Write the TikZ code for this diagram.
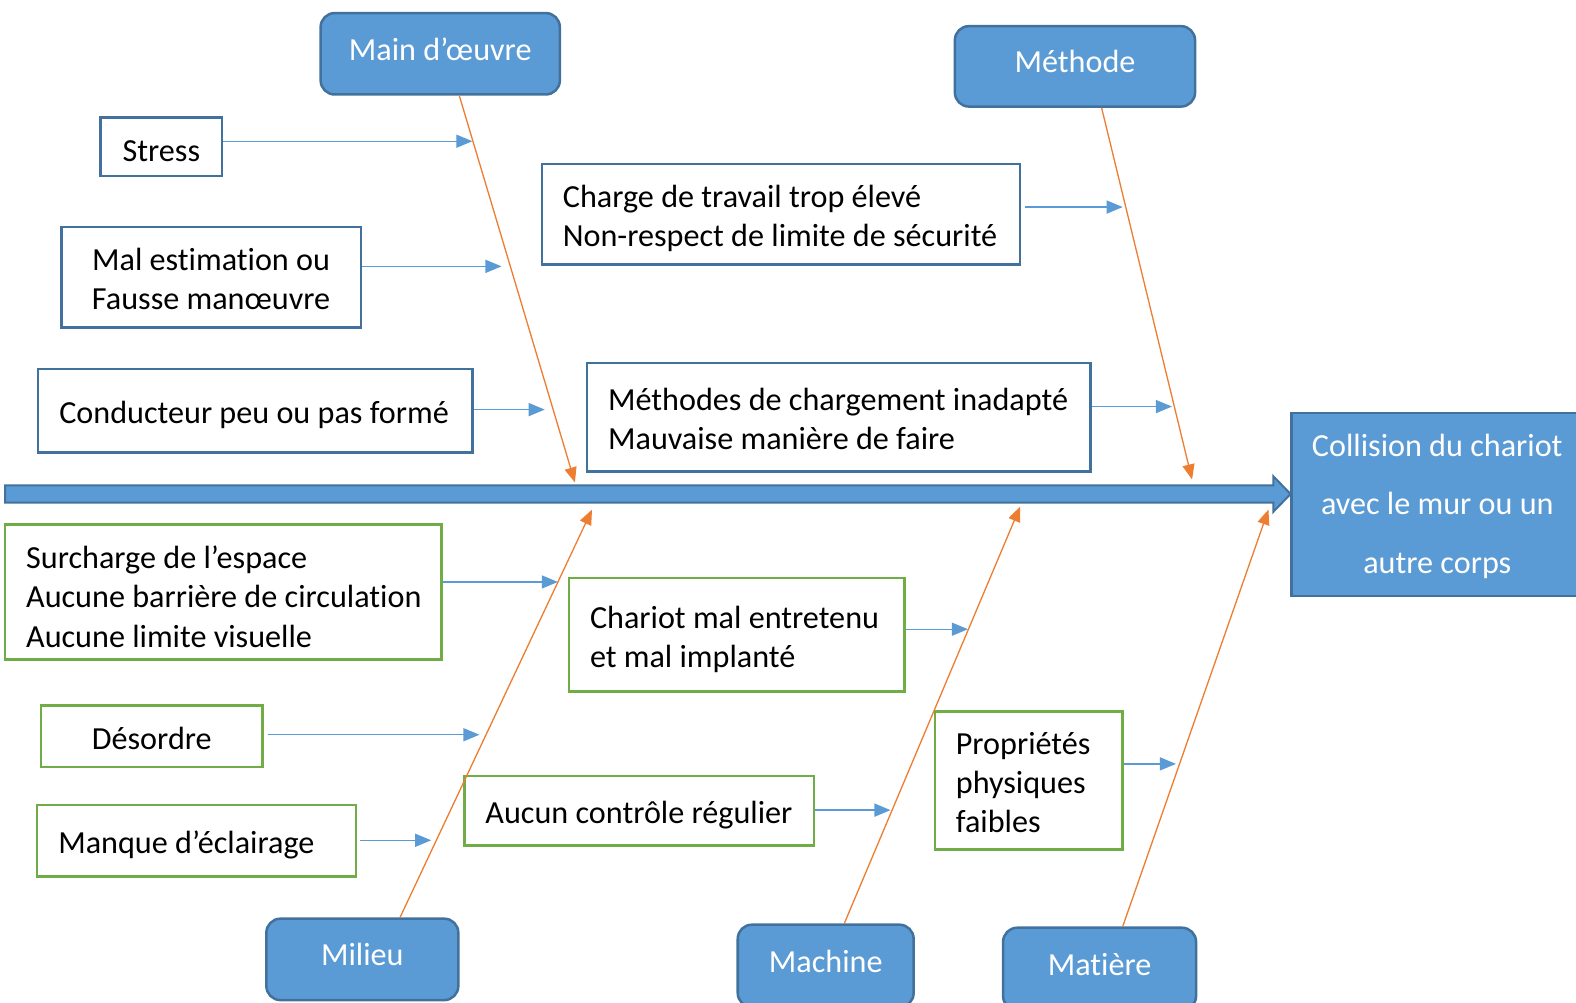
\documentclass[tikz,border=0pt]{standalone}
\usepackage{fontspec}
\setmainfont{Carlito}[Ligatures=NoCommon]
\usetikzlibrary{arrows.meta,calc}
\definecolor{accent}{HTML}{5B9BD5}
\definecolor{accentdark}{HTML}{41719C}
\definecolor{leaf}{HTML}{70AD47}
\definecolor{flame}{HTML}{ED7D31}
% text blocks of the cause boxes: a fixed-width line set, left or centred,
% shifted without changing the size the node sees
\newcommand\shifttext[2]{\raisebox{#1}[\height][\depth]{#2}}
\newcommand\leftlines[2]{\shifttext{-5pt}{\makebox[#1][l]{\begin{tabular}{@{}l@{}}#2\end{tabular}}}}
\newcommand\midlines[1]{\shifttext{-5pt}{\begin{tabular}{@{}c@{}}#1\end{tabular}}}
\newcommand\catlabel[1]{\shifttext{4.5pt}{#1}}
\begin{document}
\begin{tikzpicture}[x=1pt,y=-1pt,
  txt/.style={font=\fontsize{32}{39}\selectfont},
  category/.style={rectangle, rounded corners=14pt, draw=accentdark, fill=accent,
    line width=2.5pt, text=white, txt, inner sep=0pt},
  bluecause/.style={rectangle, draw=accentdark, line width=2.5pt, fill=white,
    txt, inner sep=0pt},
  greencause/.style={bluecause, draw=leaf},
  bone/.style={draw=flame, line width=1.3pt, -{Triangle[length=15pt,width=12pt]}},
  twig/.style={draw=accent, line width=1.3pt, -{Triangle[length=16pt,width=13pt]}},
]
\useasboundingbox (0,0) rectangle (1568,997);
\clip (0,0) rectangle (1568,997);

% main spine (block arrow)
\filldraw[fill=accent, draw=accentdark, line width=2pt]
  (5,483) -- (1267,483) -- (1267,474) -- (1284,491.5) -- (1267,509)
  -- (1267,500) -- (5,500) -- cycle;

% effect
\node[rectangle, draw=accentdark, fill=accent, line width=2.5pt, text=white,
  font=\fontsize{32}{58}\selectfont, inner sep=0pt,
  minimum width=290, minimum height=182] (effect) at (1430,502)
  {\shifttext{1.5pt}{\begin{tabular}{@{}c@{}}Collision du chariot\\avec le mur ou un\\autre corps\end{tabular}}};

% categories
\node[category, minimum width=238, minimum height=81] (mo) at (438,53.5) {\catlabel{Main d’œuvre}};
\node[category, minimum width=239, minimum height=80] (meth) at (1069.5,66) {\catlabel{Méthode}};
\node[category, minimum width=191, minimum height=81] (mil) at (360.5,954.5) {\catlabel{Milieu}};
\node[category, minimum width=175, minimum height=82] (mach) at (821.5,961) {\catlabel{Machine}};
\node[category, minimum width=192, minimum height=82] (mat) at (1094,964) {\catlabel{Matière}};

% causes above the spine
\node[bluecause, minimum width=121, minimum height=58] (stress) at (160.5,146)
  {\shifttext{-2pt}{\midlines{Stress}}};
\node[bluecause, minimum width=298, minimum height=100] (malest) at (210,276)
  {\midlines{Mal estimation ou\\Fausse manœuvre}};
\node[bluecause, minimum width=432, minimum height=83] (cond) at (254,408.5)
  {\leftlines{390pt}{Conducteur peu ou pas formé}};
\node[bluecause, minimum width=476, minimum height=100] (charge) at (777,213)
  {\leftlines{434pt}{Charge de travail trop élevé\\Non-respect de limite de sécurité}};
\node[bluecause, minimum width=501, minimum height=108] (methch) at (834.5,415)
  {\leftlines{459pt}{Méthodes de chargement inadapté\\Mauvaise manière de faire}};

% causes below the spine
\node[greencause, minimum width=434, minimum height=134] (surch) at (222,589)
  {\shifttext{-3pt}{\leftlines{392pt}{Surcharge de l’espace\\Aucune barrière de circulation\\Aucune limite visuelle}}};
\node[greencause, minimum width=334, minimum height=113] (chariot) at (733,631.5)
  {\leftlines{292pt}{Chariot mal entretenu\\et mal implanté}};
\node[greencause, minimum width=220, minimum height=61] (desord) at (151,732.5) {\midlines{Désordre}};
\node[greencause, minimum width=348, minimum height=69] (aucun) at (636,806.5)
  {\leftlines{306pt}{Aucun contrôle régulier}};
\node[greencause, minimum width=317, minimum height=71] (manque) at (195.5,836.5)
  {\leftlines{275pt}{Manque d’éclairage}};
\node[greencause, minimum width=187, minimum height=137] (propr) at (1023.5,776.5)
  {\leftlines{145pt}{Propriétés\\physiques\\faibles}};

% ends of the bones on the spine
\coordinate (bMO) at (572,480);
\coordinate (bMeth) at (1186,477);
\coordinate (bMil) at (589,507);
\coordinate (bMach) at (1015,504);
\coordinate (bMat) at (1262,507);

\draw[bone] ($(mo.south)+(19,0)$) -- (bMO);
\draw[bone] ($(meth.south)+(26.5,0)$) -- (bMeth);
\draw[bone] ($(mil.north)+(37.5,0)$) -- (bMil);
\draw[bone] ($(mach.north)+(18.5,0)$) -- (bMach);
\draw[bone] ($(mat.north)+(23,0)$) -- (bMat);

% ends of the cause arrows
\coordinate (tStress) at (470,140.5);
\coordinate (tMalest) at (499,265);
\coordinate (tCond) at (542,407.5);
\coordinate (tCharge) at (1117,206);
\coordinate (tMethch) at (1166,404.5);
\coordinate (tSurch) at (555,579);
\coordinate (tChariot) at (963,626);
\coordinate (tDesord) at (477,731);
\coordinate (tAucun) at (886,806);
\coordinate (tManque) at (429,836);
\coordinate (tPropr) at (1170,760);

\draw[twig] (stress.east |- tStress) -- (tStress);
\draw[twig] (malest.east |- tMalest) -- (tMalest);
\draw[twig] (cond.east |- tCond) -- (tCond);
\draw[twig] ($(charge.east |- tCharge)+(4,0)$) -- (tCharge);
\draw[twig] (methch.east |- tMethch) -- (tMethch);
\draw[twig] (surch.east |- tSurch) -- (tSurch);
\draw[twig] (chariot.east |- tChariot) -- (tChariot);
\draw[twig] ($(desord.east |- tDesord)+(4,0)$) -- (tDesord);
\draw[twig] (aucun.east |- tAucun) -- (tAucun);
\draw[twig] ($(manque.east |- tManque)+(3,0)$) -- (tManque);
\draw[twig] (propr.east |- tPropr) -- (tPropr);
\end{tikzpicture}
\end{document}
